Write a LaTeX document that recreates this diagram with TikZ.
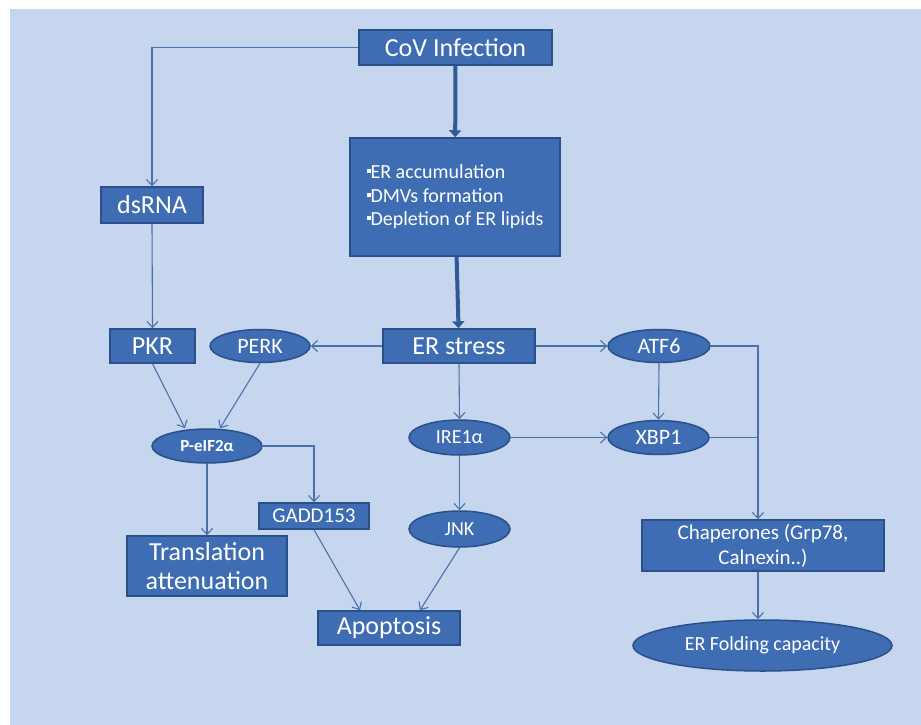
\documentclass[tikz,border=0pt]{standalone}
\usepackage{fontspec}
\setmainfont{Carlito}
\usetikzlibrary{arrows.meta,shapes.geometric}
\definecolor{bgblue}{HTML}{C5D6EE}
\definecolor{nodeblue}{HTML}{3E6DB4}
\definecolor{edgeblue}{HTML}{2B4F88}
\definecolor{linkblue}{HTML}{4A72AA}
\definecolor{fatblue}{HTML}{2E5A97}
\newcommand\sqbul{\rule[0.28em]{0.2em}{0.2em}}
\tikzset{
  box/.style={draw=edgeblue,line width=1.5pt,fill=nodeblue,text=white,inner sep=0pt},
  oval/.style={box,ellipse},
  big/.style={font=\fontsize{26}{28}\selectfont},
  mid/.style={font=\fontsize{22}{24}\selectfont},
  small/.style={font=\fontsize{20}{24}\selectfont},
  link/.style={draw=linkblue,line width=1.1pt,-{Straight Barb[length=6pt,width=11pt]}},
  fat/.style={draw=fatblue,line width=4pt,-{Triangle[length=7pt,width=12pt]}}
}
\begin{document}
\begin{tikzpicture}[x=1pt,y=-1pt]
  \fill[white] (0,0) rectangle (921,725);
  \fill[bgblue] (10,9) rectangle (921,725);
  \useasboundingbox (0,0) rectangle (921,725);
  % middle column
  \node[box,big,minimum width=193,minimum height=35] (cov) at (455.5,47.5) {CoV Infection};
  \node[box,minimum width=210,minimum height=118,align=left,
        font=\fontsize{20}{23.5}\selectfont] (er) at (455,197) {\sqbul ER accumulation\\\sqbul DMVs formation\\\sqbul Depletion of ER lipids};
  \node[box,big,minimum width=152,minimum height=34] (stress) at (459,346) {ER stress};
  \node[oval,small,minimum width=101,minimum height=35] (ire) at (459.5,437.5) {IRE1α};
  \node[oval,small,minimum width=101,minimum height=36] (jnk) at (459.5,529) {JNK};
  \node[box,big,minimum width=142,minimum height=34] (apop) at (389,628) {Apoptosis};
  % left column
  \node[box,big,minimum width=102,minimum height=36] (ds) at (152,205) {dsRNA};
  \node[box,big,minimum width=85,minimum height=34] (pkr) at (152.5,346) {PKR};
  \node[oval,mid,minimum width=100,minimum height=33] (perk) at (260,346) {PERK};
  \node[oval,font=\fontsize{17}{20}\selectfont\bfseries,minimum width=110,minimum height=34] (peif) at (207,446) {P-eIF2α};
  \node[box,mid,font=\fontsize{21}{24}\selectfont,minimum width=110,minimum height=26] (gadd) at (314,516) {GADD153};
  \node[box,big,align=center,font=\fontsize{26}{29}\selectfont,minimum width=160,minimum height=60] (trans) at (207,566) {Translation\\attenuation};
  % right column
  \node[oval,mid,minimum width=102,minimum height=33] (atf) at (659,346) {ATF6};
  \node[oval,mid,minimum width=101,minimum height=34] (xbp) at (658.5,437.5) {XBP1};
  \node[box,align=center,font=\fontsize{21}{25}\selectfont,minimum width=242,minimum height=51] (chap) at (763,545.5) {Chaperones (Grp78,\\Calnexin..)};
  \node[oval,font=\fontsize{20}{24}\selectfont,minimum width=259,minimum height=51] (fold) at (762.5,645.5) {ER Folding capacity};
  \coordinate (jn) at (758,346);

  \draw[fat] (cov) -- (er);
  \draw[fat] (er) -- (stress);
  \draw[link] (cov.west) -| (ds.north);
  \foreach \a/\b in {ds/pkr,stress/ire,ire/jnk,atf/xbp,peif/trans}
    \draw[link] (\a.south) -- (\b.north);
  \draw[link] (stress.west) -- (perk.east);
  \draw[link] (stress.east) -- (atf.west);
  \draw[link] (ire.east) -- (xbp.west);
  \draw[link] (pkr.south) -- ([xshift=-22pt]peif.north);
  \draw[link] (perk.south) -- ([xshift=13pt]peif.north);
  \draw[link] (peif.east) -| (gadd.north);
  \draw[link] (gadd.south) -- ([xshift=-29pt]apop.north);
  \draw[link] (jnk.south) -- ([xshift=31pt]apop.north);
  \draw[link] (atf.east) -- (jn) -- (jn |- chap.north);
  \draw[draw=linkblue,line width=1.1pt] (xbp.east) -- (xbp.east -| jn);
  \draw[link] (chap.south -| jn) -- (fold.north -| jn);
\end{tikzpicture}
\end{document}
